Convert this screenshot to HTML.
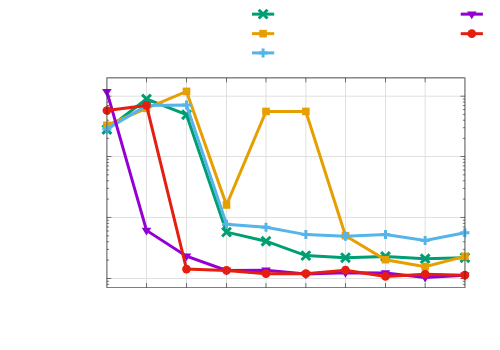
<!DOCTYPE html>
<html><head><meta charset="utf-8"><title>chart</title>
<style>html,body{margin:0;padding:0;background:#fff;font-family:"Liberation Sans",sans-serif}svg{display:block}</style></head>
<body>
<svg width="500" height="350" viewBox="0 0 500 350">
<rect width="500" height="350" fill="#ffffff"/>
<path d="M146.50 77.85V287.5M186.50 77.85V287.5M226.50 77.85V287.5M266.00 77.85V287.5M305.85 77.85V287.5M345.50 77.85V287.5M385.50 77.85V287.5M425.15 77.85V287.5M106.9 96.20H464.95M106.9 156.50H464.95M106.9 217.45H464.95M106.9 278.50H464.95" stroke="#e0e0e0" stroke-width="1" fill="none"/>
<path d="M146.50 287.5v-4.5M146.50 77.85v4.5M186.50 287.5v-4.5M186.50 77.85v4.5M226.50 287.5v-4.5M226.50 77.85v4.5M266.00 287.5v-4.5M266.00 77.85v4.5M305.85 287.5v-4.5M305.85 77.85v4.5M345.50 287.5v-4.5M345.50 77.85v4.5M385.50 287.5v-4.5M385.50 77.85v4.5M425.15 287.5v-4.5M425.15 77.85v4.5M106.9 96.20h4.5M464.95 96.20h-4.5M106.9 156.50h4.5M464.95 156.50h-4.5M106.9 138.35h2.2M464.95 138.35h-2.2M106.9 127.73h2.2M464.95 127.73h-2.2M106.9 120.20h2.2M464.95 120.20h-2.2M106.9 114.35h2.2M464.95 114.35h-2.2M106.9 109.58h2.2M464.95 109.58h-2.2M106.9 105.54h2.2M464.95 105.54h-2.2M106.9 102.04h2.2M464.95 102.04h-2.2M106.9 98.96h2.2M464.95 98.96h-2.2M106.9 217.45h4.5M464.95 217.45h-4.5M106.9 199.10h2.2M464.95 199.10h-2.2M106.9 188.37h2.2M464.95 188.37h-2.2M106.9 180.75h2.2M464.95 180.75h-2.2M106.9 174.85h2.2M464.95 174.85h-2.2M106.9 170.02h2.2M464.95 170.02h-2.2M106.9 165.94h2.2M464.95 165.94h-2.2M106.9 162.41h2.2M464.95 162.41h-2.2M106.9 159.29h2.2M464.95 159.29h-2.2M106.9 278.50h4.5M464.95 278.50h-4.5M106.9 260.12h2.2M464.95 260.12h-2.2M106.9 249.37h2.2M464.95 249.37h-2.2M106.9 241.74h2.2M464.95 241.74h-2.2M106.9 235.83h2.2M464.95 235.83h-2.2M106.9 230.99h2.2M464.95 230.99h-2.2M106.9 226.91h2.2M464.95 226.91h-2.2M106.9 223.37h2.2M464.95 223.37h-2.2M106.9 220.24h2.2M464.95 220.24h-2.2M106.9 284.39h2.2M464.95 284.39h-2.2M106.9 281.28h2.2M464.95 281.28h-2.2" stroke="#000" stroke-width="1" stroke-opacity="0.5" fill="none"/>
<path d="M106.9 77.35V288.0" stroke="#000" stroke-width="1" stroke-opacity="0.415" fill="none"/>
<path d="M464.95 77.35V288.0" stroke="#000" stroke-width="1" stroke-opacity="0.415" fill="none"/>
<path d="M107.4 77.85H464.45" stroke="#000" stroke-width="1" stroke-opacity="0.446" fill="none"/>
<path d="M107.4 287.5H464.45" stroke="#000" stroke-width="1" stroke-opacity="0.231" fill="none"/>
<polyline points="106.90,129.50 146.50,99.00 186.50,114.70 226.50,232.10 266.00,241.20 305.85,255.60 345.50,257.70 385.50,256.50 425.15,258.75 464.90,257.70" stroke="#009e73" stroke-width="3.0" fill="none" stroke-linejoin="miter" stroke-linecap="butt"/>
<path d="M102.50 125.10L111.30 133.90M102.50 133.90L111.30 125.10" stroke="#009e73" stroke-width="3.0" fill="none"/>
<path d="M142.10 94.60L150.90 103.40M142.10 103.40L150.90 94.60" stroke="#009e73" stroke-width="3.0" fill="none"/>
<path d="M182.10 110.30L190.90 119.10M182.10 119.10L190.90 110.30" stroke="#009e73" stroke-width="3.0" fill="none"/>
<path d="M222.10 227.70L230.90 236.50M222.10 236.50L230.90 227.70" stroke="#009e73" stroke-width="3.0" fill="none"/>
<path d="M261.60 236.80L270.40 245.60M261.60 245.60L270.40 236.80" stroke="#009e73" stroke-width="3.0" fill="none"/>
<path d="M301.45 251.20L310.25 260.00M301.45 260.00L310.25 251.20" stroke="#009e73" stroke-width="3.0" fill="none"/>
<path d="M341.10 253.30L349.90 262.10M341.10 262.10L349.90 253.30" stroke="#009e73" stroke-width="3.0" fill="none"/>
<path d="M381.10 252.10L389.90 260.90M381.10 260.90L389.90 252.10" stroke="#009e73" stroke-width="3.0" fill="none"/>
<path d="M420.75 254.35L429.55 263.15M420.75 263.15L429.55 254.35" stroke="#009e73" stroke-width="3.0" fill="none"/>
<path d="M460.50 253.30L469.30 262.10M460.50 262.10L469.30 253.30" stroke="#009e73" stroke-width="3.0" fill="none"/>
<polyline points="106.90,125.30 146.50,108.40 186.50,91.40 226.50,205.00 266.00,111.45 305.85,111.45 345.50,235.70 385.50,259.70 425.15,266.65 464.90,256.40" stroke="#e69f00" stroke-width="3.0" fill="none" stroke-linejoin="miter" stroke-linecap="butt"/>
<rect x="103.10" y="121.50" width="7.60" height="7.60" fill="#e69f00"/>
<rect x="142.70" y="104.60" width="7.60" height="7.60" fill="#e69f00"/>
<rect x="182.70" y="87.60" width="7.60" height="7.60" fill="#e69f00"/>
<rect x="222.70" y="201.20" width="7.60" height="7.60" fill="#e69f00"/>
<rect x="262.20" y="107.65" width="7.60" height="7.60" fill="#e69f00"/>
<rect x="302.05" y="107.65" width="7.60" height="7.60" fill="#e69f00"/>
<rect x="341.70" y="231.90" width="7.60" height="7.60" fill="#e69f00"/>
<rect x="381.70" y="255.90" width="7.60" height="7.60" fill="#e69f00"/>
<rect x="421.35" y="262.85" width="7.60" height="7.60" fill="#e69f00"/>
<rect x="461.10" y="252.60" width="7.60" height="7.60" fill="#e69f00"/>
<polyline points="106.90,129.10 146.50,105.50 186.50,105.00 226.50,224.30 266.00,227.20 305.85,234.60 345.50,236.30 385.50,234.60 425.15,240.40 464.90,232.70" stroke="#56b4e9" stroke-width="3.0" fill="none" stroke-linejoin="miter" stroke-linecap="butt"/>
<path d="M102.40 129.10L111.40 129.10M106.90 124.60L106.90 133.60" stroke="#56b4e9" stroke-width="3.0" fill="none"/>
<path d="M142.00 105.50L151.00 105.50M146.50 101.00L146.50 110.00" stroke="#56b4e9" stroke-width="3.0" fill="none"/>
<path d="M182.00 105.00L191.00 105.00M186.50 100.50L186.50 109.50" stroke="#56b4e9" stroke-width="3.0" fill="none"/>
<path d="M222.00 224.30L231.00 224.30M226.50 219.80L226.50 228.80" stroke="#56b4e9" stroke-width="3.0" fill="none"/>
<path d="M261.50 227.20L270.50 227.20M266.00 222.70L266.00 231.70" stroke="#56b4e9" stroke-width="3.0" fill="none"/>
<path d="M301.35 234.60L310.35 234.60M305.85 230.10L305.85 239.10" stroke="#56b4e9" stroke-width="3.0" fill="none"/>
<path d="M341.00 236.30L350.00 236.30M345.50 231.80L345.50 240.80" stroke="#56b4e9" stroke-width="3.0" fill="none"/>
<path d="M381.00 234.60L390.00 234.60M385.50 230.10L385.50 239.10" stroke="#56b4e9" stroke-width="3.0" fill="none"/>
<path d="M420.65 240.40L429.65 240.40M425.15 235.90L425.15 244.90" stroke="#56b4e9" stroke-width="3.0" fill="none"/>
<path d="M460.40 232.70L469.40 232.70M464.90 228.20L464.90 237.20" stroke="#56b4e9" stroke-width="3.0" fill="none"/>
<polyline points="106.90,91.70 146.50,230.40 186.50,256.20 226.50,270.40 266.00,270.30 305.85,274.10 345.50,272.70 385.50,272.90 425.15,277.40 464.90,275.20" stroke="#9400d3" stroke-width="3.0" fill="none" stroke-linejoin="miter" stroke-linecap="butt"/>
<path d="M102.10 89.00L111.70 89.00L106.90 96.80Z" fill="#9400d3"/>
<path d="M141.70 227.70L151.30 227.70L146.50 235.50Z" fill="#9400d3"/>
<path d="M181.70 253.50L191.30 253.50L186.50 261.30Z" fill="#9400d3"/>
<path d="M221.70 267.70L231.30 267.70L226.50 275.50Z" fill="#9400d3"/>
<path d="M261.20 267.60L270.80 267.60L266.00 275.40Z" fill="#9400d3"/>
<path d="M301.05 271.40L310.65 271.40L305.85 279.20Z" fill="#9400d3"/>
<path d="M340.70 270.00L350.30 270.00L345.50 277.80Z" fill="#9400d3"/>
<path d="M380.70 270.20L390.30 270.20L385.50 278.00Z" fill="#9400d3"/>
<path d="M420.35 274.70L429.95 274.70L425.15 282.50Z" fill="#9400d3"/>
<path d="M460.10 272.50L469.70 272.50L464.90 280.30Z" fill="#9400d3"/>
<polyline points="106.90,110.50 146.50,105.40 186.50,269.10 226.50,270.40 266.00,273.70 305.85,273.70 345.50,270.20 385.50,276.40 425.15,274.20 464.90,275.20" stroke="#e51e10" stroke-width="3.0" fill="none" stroke-linejoin="miter" stroke-linecap="butt"/>
<circle cx="106.90" cy="110.50" r="4.35" fill="#e51e10"/>
<circle cx="146.50" cy="105.40" r="4.35" fill="#e51e10"/>
<circle cx="186.50" cy="269.10" r="4.35" fill="#e51e10"/>
<circle cx="226.50" cy="270.40" r="4.35" fill="#e51e10"/>
<circle cx="266.00" cy="273.70" r="4.35" fill="#e51e10"/>
<circle cx="305.85" cy="273.70" r="4.35" fill="#e51e10"/>
<circle cx="345.50" cy="270.20" r="4.35" fill="#e51e10"/>
<circle cx="385.50" cy="276.40" r="4.35" fill="#e51e10"/>
<circle cx="425.15" cy="274.20" r="4.35" fill="#e51e10"/>
<circle cx="464.90" cy="275.20" r="4.35" fill="#e51e10"/>
<path d="M252.00 14.15H274.20" stroke="#009e73" stroke-width="3.0" fill="none"/>
<path d="M258.70 9.75L267.50 18.55M258.70 18.55L267.50 9.75" stroke="#009e73" stroke-width="3.0" fill="none"/>
<path d="M252.00 33.65H274.20" stroke="#e69f00" stroke-width="3.0" fill="none"/>
<rect x="259.30" y="29.85" width="7.60" height="7.60" fill="#e69f00"/>
<path d="M252.00 52.9H274.20" stroke="#56b4e9" stroke-width="3.0" fill="none"/>
<path d="M258.60 52.90L267.60 52.90M263.10 48.40L263.10 57.40" stroke="#56b4e9" stroke-width="3.0" fill="none"/>
<path d="M460.70 14.15H482.90" stroke="#9400d3" stroke-width="3.0" fill="none"/>
<path d="M467.00 11.45L476.60 11.45L471.80 19.25Z" fill="#9400d3"/>
<path d="M460.70 33.7H482.90" stroke="#e51e10" stroke-width="3.0" fill="none"/>
<circle cx="471.80" cy="33.70" r="4.35" fill="#e51e10"/>
<path d="M106.9 77.35V288.0" stroke="#000" stroke-width="1" stroke-opacity="0.350" fill="none"/>
<path d="M464.95 77.35V288.0" stroke="#000" stroke-width="1" stroke-opacity="0.350" fill="none"/>
<path d="M107.4 77.85H464.45" stroke="#000" stroke-width="1" stroke-opacity="0.350" fill="none"/>
<path d="M107.4 287.5H464.45" stroke="#000" stroke-width="1" stroke-opacity="0.350" fill="none"/>
</svg>
</body></html>
